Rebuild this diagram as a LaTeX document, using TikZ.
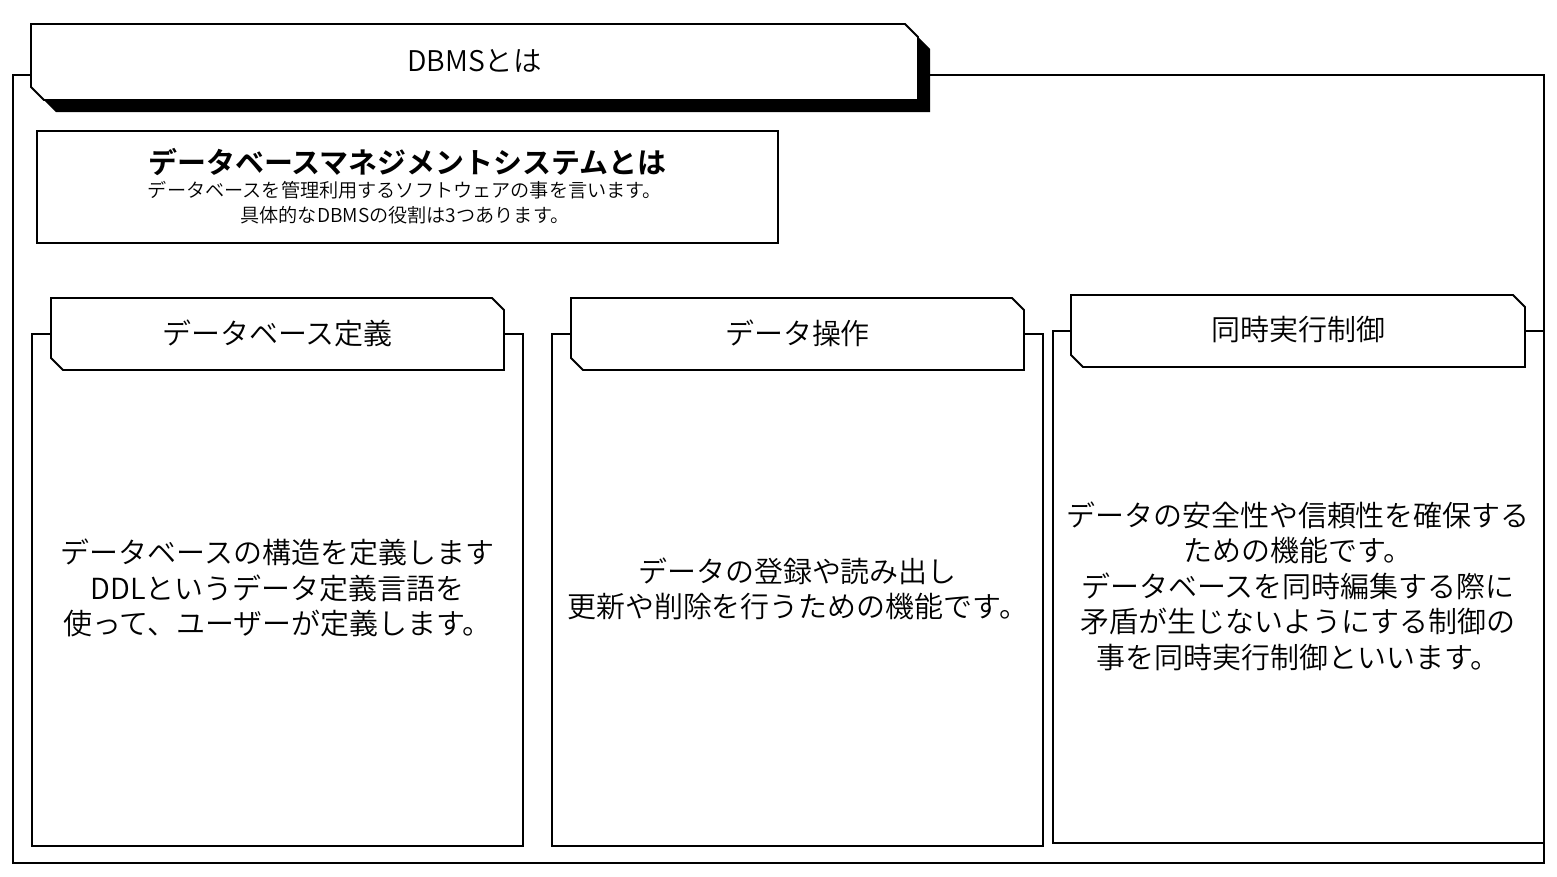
\documentclass[tikz,border=0pt]{standalone}
\usepackage{fontspec}
\usepackage{tikz}
\newfontfamily\jpfont{Noto Sans CJK JP}[UprightFont={* DemiLight}, BoldFont={* Bold}]
\newcommand{\tabshape}[5]{(#1,#2) -- (#3-#5,#2) -- (#3,#2+#5) -- (#3,#4) -- (#1+#5,#4) -- (#1,#4-#5) -- cycle}
\tikzset{
  frame/.style={draw=black, line width=1.1pt},
  tabfill/.style={frame, fill=white},
  tabtxt/.style={font=\jpfont\fontsize{16.5}{20}\selectfont, inner sep=0pt},
  bodytxt/.style={font=\jpfont\fontsize{16.5}{20.2}\selectfont, align=center, inner sep=0pt},
}

\begin{document}
\begin{tikzpicture}[x=0.02cm, y=-0.02cm]
  \useasboundingbox (0,0) rectangle (1557,876);
  \draw[frame] (13,75) rectangle (1544,863);
  \fill[black] \tabshape{43}{36}{930}{112}{13};
  \filldraw[tabfill] \tabshape{31}{24}{918}{100}{13};
  \node[tabtxt, font=\jpfont\fontsize{16.2}{18}\selectfont] (dbms) at (474.5,61) {DBMSとは};

  \draw[frame] (37,131) rectangle (778,243);
  \node[tabtxt, font=\jpfont\bfseries\fontsize{16.5}{20}\selectfont] (desctitle) at (407.5,162) {データベースマネジメントシステムとは};
  \node[bodytxt, font=\jpfont\fontsize{10.9}{14.2}\selectfont] (descbody) at (405,203) {データベースを管理利用するソフトウェアの事を言います。\\具体的なDBMSの役割は3つあります。};

  \draw[frame] (32,334) rectangle (523,846);
  \filldraw[tabfill] \tabshape{51}{298}{504}{370}{12};
  \node[tabtxt] (define) at (277.5,333) {データベース定義};
  \node[bodytxt] (definebody) at (277.5,588) {データベースの構造を定義します\\DDLというデータ定義言語を\\使って、ユーザーが定義します。};

  \draw[frame] (552,334) rectangle (1043,846);
  \filldraw[tabfill] \tabshape{571}{298}{1024}{370}{12};
  \node[tabtxt] (operate) at (797.5,333) {データ操作};
  \node[bodytxt] (operatebody) at (797.5,589) {データの登録や読み出し\\更新や削除を行うための機能です。};

  \draw[frame] (1053,331) rectangle (1544,843);
  \filldraw[tabfill] \tabshape{1071}{295}{1525}{367}{12};
  \node[tabtxt] (control) at (1298,330) {同時実行制御};
  \node[bodytxt] (controlbody) at (1298,586) {データの安全性や信頼性を確保する\\ための機能です。\\データベースを同時編集する際に\\矛盾が生じないようにする制御の\\事を同時実行制御といいます。};
\end{tikzpicture}
\end{document}
